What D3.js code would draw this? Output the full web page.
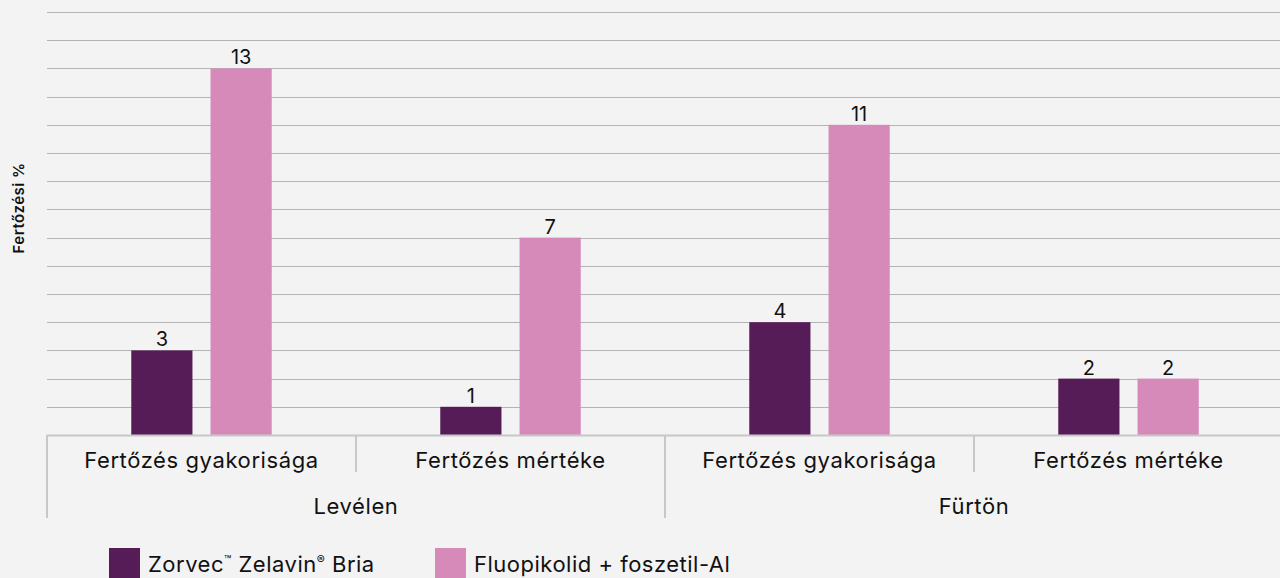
<!DOCTYPE html>
<html><head><meta charset="utf-8">
<script src="https://cdn.jsdelivr.net/npm/d3@7"></script>
<style>
html,body{margin:0;padding:0;background:#f3f3f3;}
svg{display:block;font-family:Inter, "Noto Sans", sans-serif;}
</style></head>
<body><svg id="c" width="1280" height="578"></svg>
<script>
const categories = ["Fertőzés gyakorisága","Fertőzés mértéke","Fertőzés gyakorisága","Fertőzés mértéke"];
const groups = ["Levélen","Levélen","Fürtön","Fürtön"];
const groupNames = ["Levélen","Fürtön"];
const seriesNames = ["Zorvec™ Zelavin® Bria","Fluopikolid + foszetil-Al"];
const zorvec = [3,1,4,2];
const fluo = [13,7,11,2];
const yTicks = [0,1,2,3,4,5,6,7,8,9,10,11,12,13,14,15];
const colors = ["#561c58","#d58aba"];
const yTitle = "Fertőzési %";

(function(){
const svg = d3.select("#c");
const pLeft=47, pRight=1283, pTop=12, pBottom=435;
const idx = d3.range(categories.length);
const x = d3.scaleBand().domain(idx).range([pLeft,pRight]).padding(0);
const xi = d3.scaleBand().domain([0,1]).range([0,x.bandwidth()]).paddingInner(0.228).paddingOuter(1.063);
const y = d3.scaleLinear().domain([0,15]).range([pBottom,pTop]);

svg.append("g").selectAll("line").data(yTicks.filter(t=>t>0)).join("line")
  .attr("x1",pLeft).attr("x2",pRight).attr("y1",d=>Math.round(y(d))+0.5).attr("y2",d=>Math.round(y(d))+0.5)
  .attr("stroke","#b4b4b4").attr("stroke-width",1);

const series=[zorvec,fluo];
series.forEach((s,si)=>{
  const g=svg.append("g");
  g.selectAll("rect").data(idx).join("rect")
    .attr("x",i=>x(i)+xi(si)).attr("width",xi.bandwidth())
    .attr("y",i=>y(s[i])).attr("height",i=>y(0)-y(s[i]))
    .attr("fill",colors[si]);
  g.selectAll("text").data(idx).join("text")
    .attr("x",i=>x(i)+xi(si)+xi.bandwidth()/2).attr("y",i=>y(s[i])-4)
    .attr("text-anchor","middle").attr("font-size",20).attr("fill","#111")
    .text(i=>s[i]);
});

svg.append("line").attr("x1",pLeft).attr("x2",pRight).attr("y1",pBottom+0.5).attr("y2",pBottom+0.5)
  .attr("stroke","#c8c8c8").attr("stroke-width",2);
svg.append("g").selectAll("line").data(idx.filter(i=>i>0 && groups[i]===groups[i-1])).join("line")
  .attr("x1",i=>x(i)).attr("x2",i=>x(i)).attr("y1",pBottom).attr("y2",472)
  .attr("stroke","#c8c8c8").attr("stroke-width",2);
const groupStarts = idx.filter(i=>i===0 || groups[i]!==groups[i-1]);
svg.append("g").selectAll("line").data(groupStarts).join("line")
  .attr("x1",i=>x(i)).attr("x2",i=>x(i)).attr("y1",pBottom).attr("y2",518)
  .attr("stroke","#c8c8c8").attr("stroke-width",2);

svg.append("g").selectAll("text").data(idx).join("text")
  .attr("x",i=>x(i)+x.bandwidth()/2).attr("y",468)
  .attr("text-anchor","middle").attr("font-size",22).attr("letter-spacing",0.6).attr("fill","#111")
  .text(i=>categories[i]);
groupNames.forEach(gn=>{
  const ids=idx.filter(i=>groups[i]===gn);
  const x0=x(ids[0]), x1=x(ids[ids.length-1])+x.bandwidth();
  svg.append("text").attr("x",(x0+x1)/2).attr("y",514).attr("text-anchor","middle")
    .attr("font-size",22).attr("letter-spacing",0.6).attr("fill","#111").text(gn);
});

svg.append("text").attr("transform","translate(24,208) rotate(-90)").attr("text-anchor","middle")
  .attr("font-size",15).attr("font-weight",600).attr("letter-spacing",0.5).attr("fill","#111").text(yTitle);

const legX=[109,435];
seriesNames.forEach((n,i)=>{
  svg.append("rect").attr("x",legX[i]).attr("y",548).attr("width",31).attr("height",31).attr("fill",colors[i]);
  const t=svg.append("text").attr("x",legX[i]+39).attr("y",572).attr("font-size",22).attr("letter-spacing",0.5).attr("fill","#111");
  let shifted=false;
  n.split(/([™®])/).filter(p=>p.length).forEach(p=>{
    if(p==="™"||p==="®"){
      t.append("tspan").attr("font-size",12).attr("dy",-8).text(p);
      shifted=true;
    } else {
      t.append("tspan").attr("dy",shifted?8:0).text(p);
      shifted=false;
    }
  });
});
})();
</script></body></html>
